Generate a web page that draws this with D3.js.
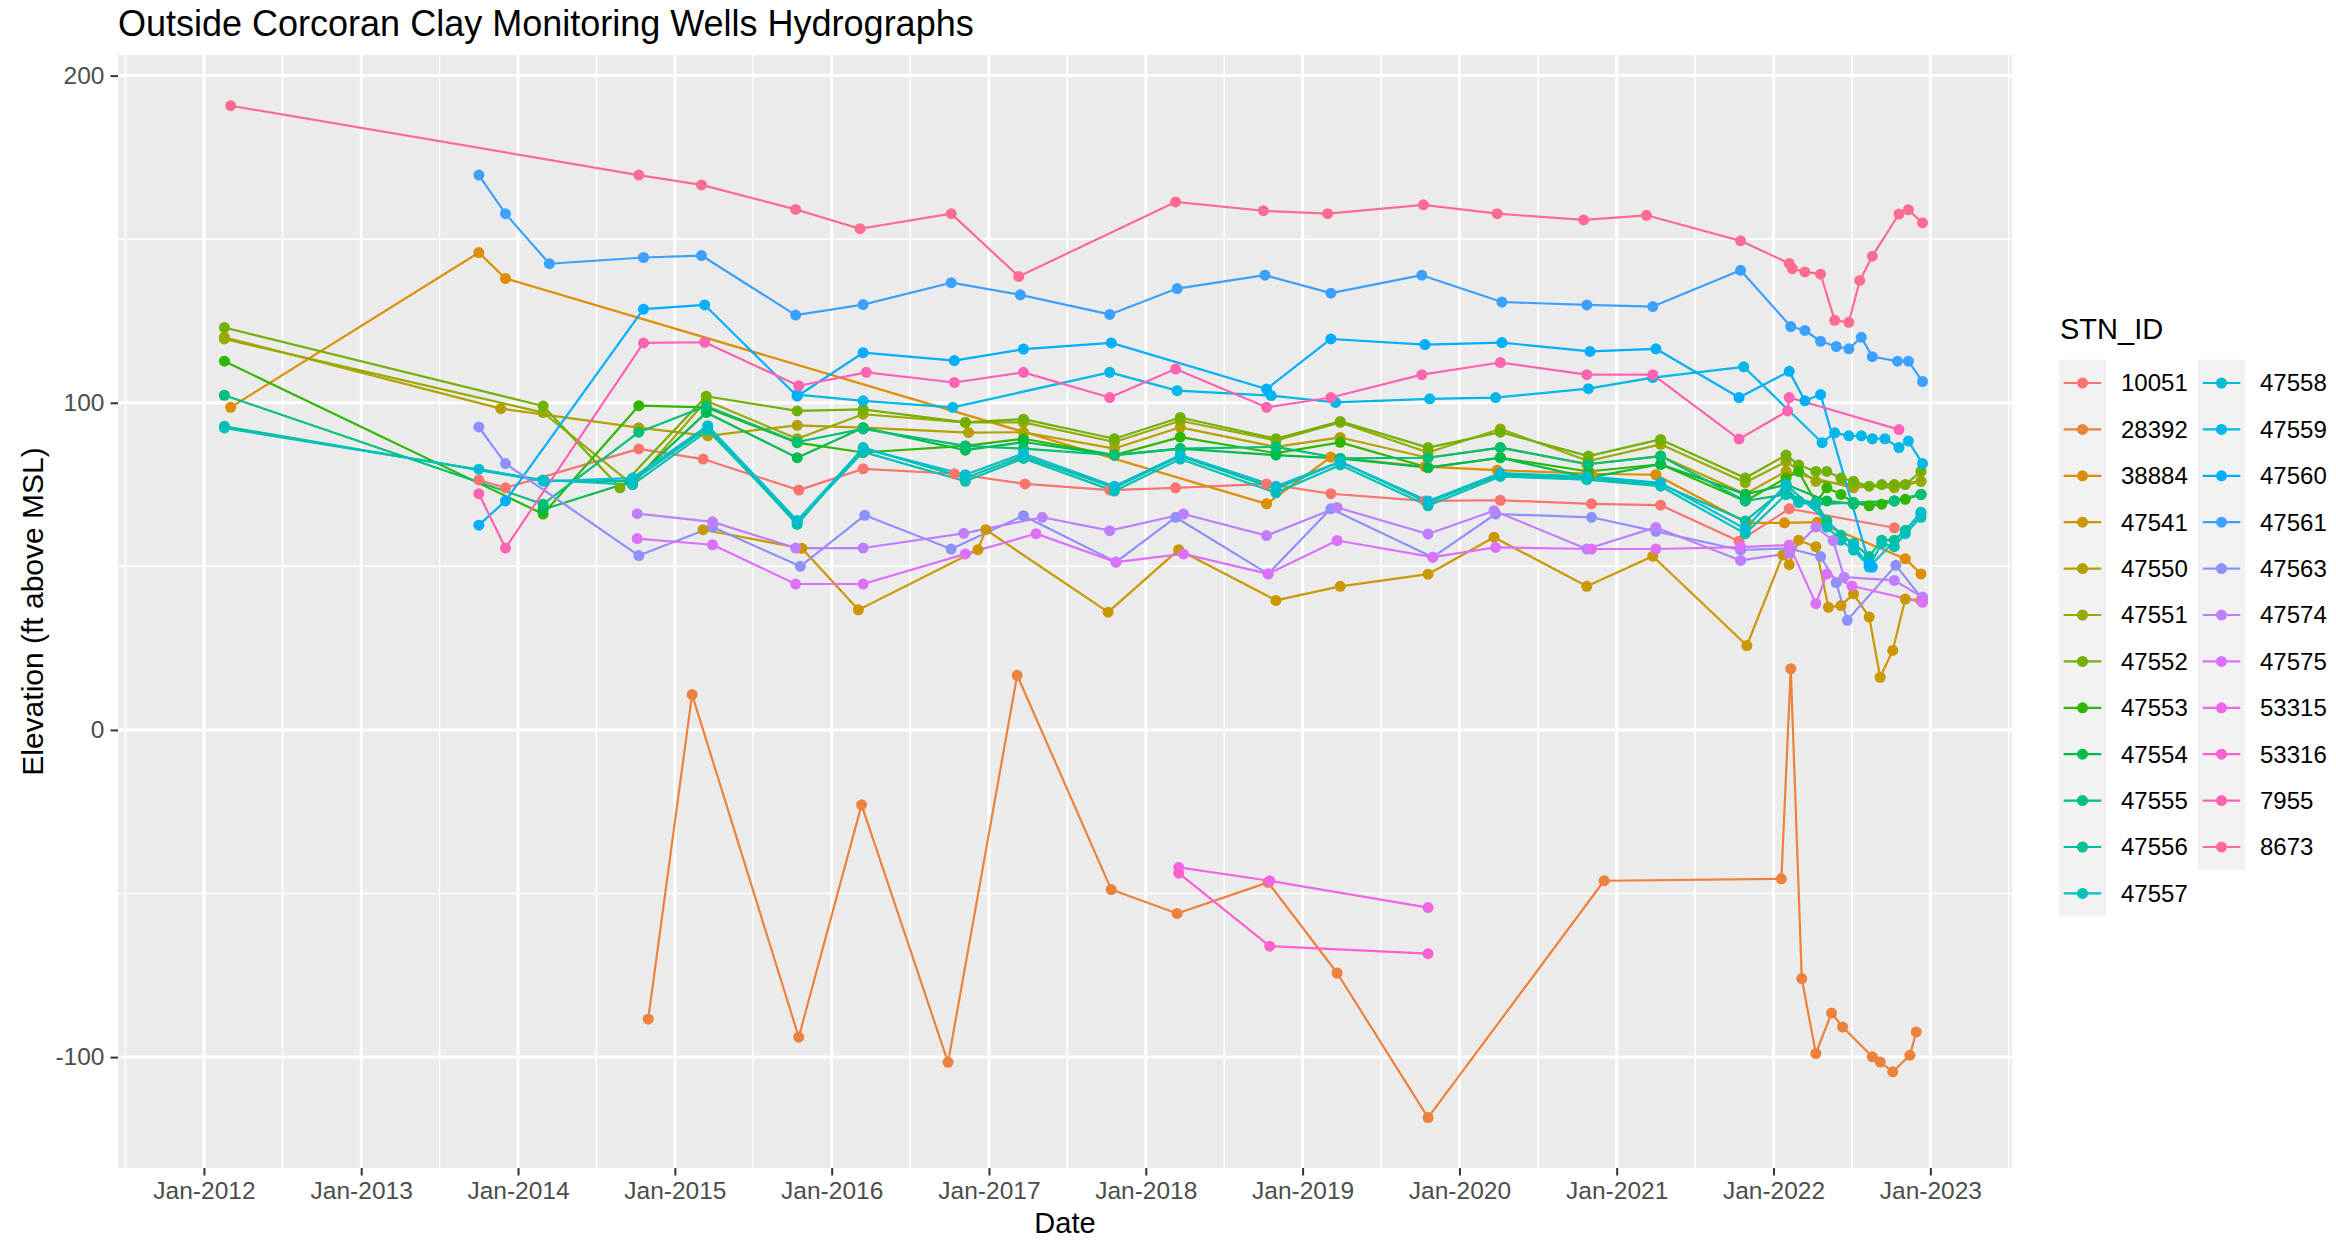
<!DOCTYPE html>
<html>
<head>
<meta charset="utf-8">
<script src="https://cdn.jsdelivr.net/npm/d3@7"></script>
<style>
  body { margin: 0; background: #fff; }
  text { font-family: "Liberation Sans", Arial, sans-serif; }
</style>
</head>
<body>
<div id="chart"></div>
<script>
// station ids, in legend order
const stations = ["10051","28392","38884","47541","47550","47551","47552","47553","47554","47555","47556","47557",
  "47558","47559","47560","47561","47563","47574","47575","53315","53316","7955","8673"];

// [decimal year, elevation ft above MSL]
const s10051 = [[2013.75,76.4],[2013.92,74],[2014.77,85.9],[2015.18,82.8],[2015.79,73.3],[2016.2,79.8],[2016.78,78.3],[2017.23,75.2],[2017.77,73.3],[2018.19,74],[2018.77,75.2],[2019.18,72.2],[2019.78,70],[2020.26,70.2],[2020.84,69.1],[2021.28,68.7],[2021.78,57.7],[2022.1,67.6],[2022.77,61.8]];
const s28392 = [[2014.83,-88.4],[2015.11,10.8],[2015.79,-93.9],[2016.19,-22.9],[2016.74,-101.6],[2017.18,16.7],[2017.78,-48.8],[2018.2,-56.1],[2018.78,-46.6],[2019.22,-74.3],[2019.8,-118.5],[2020.92,-46.1],[2022.05,-45.5],[2022.11,18.7],[2022.18,-76],[2022.27,-98.9],[2022.37,-86.5],[2022.44,-90.8],[2022.63,-99.9],[2022.68,-101.5],[2022.76,-104.5],[2022.87,-99.4],[2022.91,-92.3]];
const s38884 = [[2012.17,98.6],[2013.75,145.9],[2013.92,138],[2018.77,69.1],[2019.18,83.4],[2019.78,80.5],[2020.24,79.4],[2020.84,78.3],[2021.25,78],[2021.83,63.3],[2022.07,63.3],[2022.28,63.5],[2022.84,52.3],[2022.94,47.7]];
const s47541 = [[2015.18,61.2],[2015.81,55.5],[2016.17,36.7],[2016.93,55.1],[2016.98,61.2],[2017.76,36],[2018.21,55.1],[2018.83,39.6],[2019.24,43.9],[2019.8,47.6],[2020.22,58.9],[2020.81,43.9],[2021.23,53.1],[2021.83,25.8],[2022.06,53.5],[2022.1,50.5],[2022.16,58],[2022.27,56],[2022.35,37.5],[2022.43,38],[2022.51,41.6],[2022.61,34.5],[2022.68,16.1],[2022.76,24.3],[2022.84,40],[2022.94,39.6]];
const s47550 = [[2012.13,120],[2013.89,98.2],[2014.77,92.4],[2015.21,89.9],[2015.78,93.1],[2016.2,92.4],[2016.87,90.9],[2017.22,91],[2017.8,86],[2018.22,92.5],[2018.83,86.5],[2019.24,89.4],[2019.8,83.2],[2020.26,86.3],[2020.81,81.2],[2021.28,83.7],[2021.82,72.1],[2022.08,79],[2022.51,74],[2022.94,76]];
const s47551 = [[2012.13,119.5],[2014.16,97],[2014.73,75],[2015.2,100.6],[2015.78,89],[2016.2,96.5],[2016.85,94],[2017.22,94],[2017.8,88],[2018.22,94.5],[2018.83,88.5],[2019.24,94],[2019.8,84.8],[2020.26,92],[2020.82,82.2],[2021.28,87.3],[2021.82,75.6],[2022.08,82],[2022.27,76],[2022.51,75],[2022.77,74],[2022.94,76]];
const s47552 = [[2012.13,123],[2014.16,99],[2014.65,74],[2015.2,102],[2015.78,97.5],[2016.2,98],[2016.85,94],[2017.22,95],[2017.8,89],[2018.22,95.5],[2018.83,89],[2019.24,94.3],[2019.8,86.3],[2020.26,91],[2020.82,83.7],[2021.28,88.8],[2021.82,77],[2022.08,84],[2022.16,81],[2022.27,79],[2022.34,79],[2022.43,77],[2022.51,76],[2022.61,74.5],[2022.69,75],[2022.77,75],[2022.84,75],[2022.94,79]];
const s47553 = [[2012.13,112.7],[2014.16,66],[2014.77,99.1],[2015.2,98.6],[2015.78,87.8],[2016.2,84.8],[2016.85,86.8],[2017.22,89],[2017.8,84],[2018.22,89.5],[2018.83,84.6],[2019.24,87.9],[2019.8,80.2],[2020.26,83.2],[2020.82,79],[2021.28,81.2],[2021.82,70],[2022.08,77],[2022.16,79],[2022.27,69.5],[2022.34,74],[2022.43,72],[2022.51,69.5],[2022.61,68.5],[2022.69,69],[2022.77,70],[2022.84,70.5],[2022.94,72]];
const s47554 = [[2014.16,67.4],[2014.73,76],[2015.2,97],[2015.78,83.2],[2016.2,92.4],[2016.85,85.5],[2017.22,88],[2017.8,84],[2018.22,86],[2018.83,84],[2019.24,83],[2019.8,80.2],[2020.26,83.2],[2020.82,77.1],[2021.28,81.2],[2021.82,72],[2022.08,75],[2022.34,70],[2022.51,69],[2022.77,70],[2022.94,72]];
const s47555 = [[2012.13,102.3],[2014.16,69],[2014.77,91],[2015.2,99],[2015.78,88],[2016.2,92],[2016.85,86.8],[2017.22,86],[2017.8,84],[2018.22,86],[2018.83,86.5],[2019.24,83],[2019.8,83.2],[2020.26,86.3],[2020.82,81.2],[2021.28,83.7],[2021.82,70],[2022.08,72],[2022.27,69],[2022.51,69.5],[2022.77,70],[2022.94,72]];
const s47556 = [[2012.13,92.8],[2014.16,76.1],[2014.73,76.1],[2015.21,92.4],[2015.78,62.8],[2016.2,86.3],[2016.85,77],[2017.22,83.7],[2017.8,74],[2018.22,83.7],[2018.83,73.7],[2019.24,82],[2019.8,69.5],[2020.26,78.1],[2020.81,77],[2021.28,75.1],[2021.82,63.9],[2022.08,74],[2022.16,70],[2022.27,69.5],[2022.34,64],[2022.43,59.5],[2022.51,57],[2022.61,53],[2022.69,58],[2022.77,58],[2022.84,61],[2022.94,66.5]];
const s47557 = [[2012.13,92.3],[2014.16,76.4],[2014.73,75],[2015.21,91.5],[2015.78,63.5],[2016.2,85],[2016.85,76],[2017.22,83],[2017.8,73],[2018.22,82.8],[2018.83,72.5],[2019.24,81],[2019.8,68.5],[2020.26,77.5],[2020.81,76.5],[2021.28,74.5],[2021.82,60],[2022.08,72],[2022.16,69.5],[2022.27,69],[2022.34,62],[2022.43,58],[2022.51,55],[2022.61,50],[2022.69,57],[2022.77,56],[2022.84,60],[2022.94,65]];
const s47558 = [[2013.75,79.7],[2014.17,76],[2014.73,77],[2015.21,93],[2015.78,64],[2016.2,86],[2016.85,78],[2017.22,84.5],[2017.8,74.5],[2018.22,84],[2018.83,74.5],[2019.24,82],[2019.8,70],[2020.26,78.5],[2020.81,77.5],[2021.28,75.5],[2021.82,61.5],[2022.08,75],[2022.51,56.5],[2022.61,49.8],[2022.94,66]];
const s47559 = [[2015.78,102.5],[2016.2,100.6],[2016.77,98.6],[2017.77,109.3],[2018.2,103.7],[2018.8,102.2],[2019.21,100.1],[2019.81,101.2],[2020.23,101.6],[2020.82,104.3],[2021.23,107.7],[2021.81,111],[2022.31,87.8],[2022.39,90.8],[2022.48,89.9],[2022.56,89.9],[2022.63,89],[2022.71,89],[2022.8,86.3],[2022.86,88.3],[2022.95,81.4]];
const s47560 = [[2013.75,62.6],[2013.92,70],[2014.8,128.6],[2015.19,129.9],[2015.78,102],[2016.2,115.3],[2016.78,112.9],[2017.22,116.4],[2017.78,118.3],[2018.77,104.2],[2019.18,119.5],[2019.78,117.8],[2020.27,118.4],[2020.83,115.7],[2021.25,116.5],[2021.78,101.6],[2022.1,109.6],[2022.2,100.6],[2022.3,102.5],[2022.61,50.8],[2022.63,49.8]];
const s47561 = [[2013.75,169.6],[2013.92,157.8],[2014.2,142.5],[2014.8,144.4],[2015.17,145],[2015.77,126.8],[2016.2,130],[2016.76,136.7],[2017.2,133],[2017.77,127],[2018.2,134.9],[2018.76,139],[2019.18,133.5],[2019.76,139],[2020.27,130.8],[2020.81,129.9],[2021.23,129.4],[2021.79,140.5],[2022.11,123.3],[2022.2,122.1],[2022.3,118.8],[2022.4,117.2],[2022.48,116.5],[2022.56,120],[2022.63,114.1],[2022.79,112.7],[2022.86,112.7],[2022.95,106.5]];
const s47563 = [[2013.75,92.6],[2013.92,81.4],[2014.77,53.3],[2015.24,62],[2015.8,50],[2016.21,65.6],[2016.76,55.3],[2017.22,65.5],[2017.81,51.3],[2018.19,65],[2018.78,47.7],[2019.18,67.6],[2019.83,52.8],[2020.23,66],[2020.84,65],[2021.25,60.7],[2021.79,55],[2022.1,55.5],[2022.3,53],[2022.4,45],[2022.47,33.5],[2022.78,50.3],[2022.95,40]];
const s47574 = [[2014.76,66.1],[2015.24,63.6],[2015.77,55.6],[2016.2,55.6],[2016.84,60.1],[2017.34,65],[2017.77,60.9],[2018.24,66],[2018.77,59.4],[2019.22,68],[2019.8,59.9],[2020.22,67],[2020.81,55.3],[2021.25,61.9],[2021.79,51.8],[2022.1,54],[2022.27,62],[2022.38,57.9],[2022.45,46.7],[2022.77,45.7],[2022.95,40.6]];
const s47575 = [[2014.76,58.5],[2015.24,56.6],[2015.77,44.6],[2016.2,44.6],[2016.85,53.8],[2017.3,60],[2017.81,51.3],[2018.24,53.8],[2018.78,47.7],[2019.22,57.9],[2019.83,52.8],[2020.23,55.8],[2020.84,55.3],[2021.25,55.3],[2021.79,55.9],[2022.1,56.5],[2022.27,38.6],[2022.34,47.7],[2022.5,44],[2022.95,39]];
const s53315 = [[2018.21,-42],[2018.79,-46.1],[2019.8,-54.3]];
const s53316 = [[2018.21,-43.8],[2018.79,-66.1],[2019.8,-68.4]];
const s7955 = [[2013.75,72.2],[2013.92,55.6],[2014.8,118.3],[2015.19,118.5],[2015.79,105.2],[2016.22,109.3],[2016.78,106.2],[2017.22,109.3],[2017.77,101.6],[2018.19,110.3],[2018.77,98.6],[2019.18,101.6],[2019.76,108.6],[2020.26,112.3],[2020.81,108.6],[2021.23,108.6],[2021.78,88.9],[2022.09,97.5],[2022.1,101.6],[2022.8,91.8]];
const s8673 = [[2012.17,190.8],[2014.77,169.6],[2015.17,166.6],[2015.77,159.1],[2016.18,153.2],[2016.76,157.8],[2017.19,138.6],[2018.19,161.4],[2018.75,158.7],[2019.16,157.8],[2019.77,160.5],[2020.24,157.8],[2020.79,155.9],[2021.19,157.3],[2021.79,149.5],[2022.1,142.6],[2022.12,141],[2022.2,140],[2022.3,139.3],[2022.39,125.2],[2022.48,124.6],[2022.55,137.4],[2022.63,144.8],[2022.8,157.7],[2022.86,159],[2022.95,155]];

const seriesList = [s10051,s28392,s38884,s47541,s47550,s47551,s47552,s47553,s47554,s47555,s47556,s47557,
  s47558,s47559,s47560,s47561,s47563,s47574,s47575,s53315,s53316,s7955,s8673];

// axis ticks
const yTicks = [-100, 0, 100, 200];
const yMinor = [-50, 50, 150];
const xTickYears = [2012,2013,2014,2015,2016,2017,2018,2019,2020,2021,2022,2023];

// decimal year -> Date (UTC)
function yearToDate(t) {
  const y = Math.floor(t);
  const a = Date.UTC(y, 0, 1), b = Date.UTC(y + 1, 0, 1);
  return new Date(a + (t - y) * (b - a));
}

// ggplot2 hue_pal: polar LUV, l = 65, c = 100
function hueColor(h) {
  const L = 65, C = 100, r = h * Math.PI / 180;
  const U = C * Math.cos(r), V = C * Math.sin(r);
  const Xn = 95.047, Yn = 100, Zn = 108.883;
  const dn = Xn + 15 * Yn + 3 * Zn, un = 4 * Xn / dn, vn = 9 * Yn / dn;
  const Y = Yn * Math.pow((L + 16) / 116, 3);
  const u = U / (13 * L) + un, v = V / (13 * L) + vn;
  const X = 9 * Y * u / (4 * v), Z = -X / 3 - 5 * Y + 3 * Y / v;
  const x = X / 100, y = Y / 100, z = Z / 100;
  const lin = [3.240479*x - 1.537150*y - 0.498535*z,
              -0.969256*x + 1.875992*y + 0.041556*z,
               0.055648*x - 0.204043*y + 1.057311*z];
  const g = t => {
    const s = t > 0.0031308 ? 1.055 * Math.pow(t, 1 / 2.4) - 0.055 : 12.92 * t;
    return Math.round(255 * Math.max(0, Math.min(1, s)));
  };
  return d3.rgb(g(lin[0]), g(lin[1]), g(lin[2])).formatHex();
}

const n = stations.length;
const colors = stations.map((s, i) => hueColor((15 + i * 360 / n) % 360));
const color = d3.scaleOrdinal().domain(stations).range(colors);

const data = stations.map((id, i) => ({
  id: id,
  values: seriesList[i].map(d => ({ date: yearToDate(d[0]), value: d[1] }))
}));

// layout
const W = 2336, H = 1243;
const panel = { left: 118, right: 2012, top: 55, bottom: 1168 };

const svg = d3.select("#chart").append("svg")
  .attr("width", W).attr("height", H)
  .style("display", "block");

svg.append("rect").attr("width", W).attr("height", H).attr("fill", "#fff");

const x = d3.scaleUtc()
  .domain([new Date(Date.UTC(2011, 5, 15)), new Date(Date.UTC(2023, 6, 10))])
  .range([panel.left, panel.right]);

const y = d3.scaleLinear()
  .domain([-133.9, 206.3])
  .range([panel.bottom, panel.top]);

// panel background
svg.append("rect")
  .attr("x", panel.left).attr("y", panel.top)
  .attr("width", panel.right - panel.left)
  .attr("height", panel.bottom - panel.top)
  .attr("fill", "#EBEBEB");

const grid = svg.append("g");

// minor grid lines
const xMajorDates = d3.range(2011, 2025).map(yr => new Date(Date.UTC(yr, 0, 1)));
const xMinorDates = d3.pairs(xMajorDates).map(p => new Date((+p[0] + +p[1]) / 2))
  .filter(d => x(d) >= panel.left && x(d) <= panel.right);

grid.selectAll(".ymin").data(yMinor).join("line")
  .attr("class", "ymin")
  .attr("x1", panel.left).attr("x2", panel.right)
  .attr("y1", d => y(d)).attr("y2", d => y(d))
  .attr("stroke", "#fff").attr("stroke-width", 1.5);

grid.selectAll(".xmin").data(xMinorDates).join("line")
  .attr("class", "xmin")
  .attr("y1", panel.top).attr("y2", panel.bottom)
  .attr("x1", d => x(d)).attr("x2", d => x(d))
  .attr("stroke", "#fff").attr("stroke-width", 1.5);

// major grid lines
grid.selectAll(".ymaj").data(yTicks).join("line")
  .attr("class", "ymaj")
  .attr("x1", panel.left).attr("x2", panel.right)
  .attr("y1", d => y(d)).attr("y2", d => y(d))
  .attr("stroke", "#fff").attr("stroke-width", 3);

const xTickDates = xTickYears.map(yr => new Date(Date.UTC(yr, 0, 1)));
grid.selectAll(".xmaj").data(xTickDates).join("line")
  .attr("class", "xmaj")
  .attr("y1", panel.top).attr("y2", panel.bottom)
  .attr("x1", d => x(d)).attr("x2", d => x(d))
  .attr("stroke", "#fff").attr("stroke-width", 3);

// axes
const fmt = d3.utcFormat("%b-%Y");
const xAxis = d3.axisBottom(x)
  .tickValues(xTickDates)
  .tickFormat(fmt)
  .tickSize(7.5)
  .tickPadding(6);

const yAxis = d3.axisLeft(y)
  .tickValues(yTicks)
  .tickFormat(d => String(d))
  .tickSize(7.5)
  .tickPadding(6);

const gx = svg.append("g")
  .attr("transform", `translate(0,${panel.bottom})`)
  .call(xAxis);
gx.select(".domain").remove();
gx.selectAll(".tick line").attr("stroke", "#333").attr("stroke-width", 2);
gx.selectAll(".tick text")
  .attr("fill", "#4D4D4D")
  .style("font-size", "24.5px")
  .style("font-family", "'Liberation Sans', Arial, sans-serif");

const gy = svg.append("g")
  .attr("transform", `translate(${panel.left},0)`)
  .call(yAxis);
gy.select(".domain").remove();
gy.selectAll(".tick line").attr("stroke", "#333").attr("stroke-width", 2);
gy.selectAll(".tick text")
  .attr("fill", "#4D4D4D")
  .style("font-size", "24.5px")
  .style("font-family", "'Liberation Sans', Arial, sans-serif");

// lines then points
const line = d3.line()
  .x(d => x(d.date))
  .y(d => y(d.value));

const plot = svg.append("g");

plot.selectAll(".series").data(data).join("path")
  .attr("class", "series")
  .attr("d", d => line(d.values))
  .attr("fill", "none")
  .attr("stroke", d => color(d.id))
  .attr("stroke-width", 2.2)
  .attr("stroke-linejoin", "round");

data.forEach(s => {
  plot.append("g").selectAll("circle").data(s.values).join("circle")
    .attr("cx", d => x(d.date))
    .attr("cy", d => y(d.value))
    .attr("r", 5.5)
    .attr("fill", color(s.id));
});

// titles
svg.append("text")
  .attr("x", panel.left).attr("y", 36)
  .style("font-size", "36px")
  .attr("fill", "#000")
  .text("Outside Corcoran Clay Monitoring Wells Hydrographs");

svg.append("text")
  .attr("x", (panel.left + panel.right) / 2).attr("y", 1233)
  .attr("text-anchor", "middle")
  .style("font-size", "29px")
  .attr("fill", "#000")
  .text("Date");

svg.append("text")
  .attr("transform", `translate(43,${(panel.top + panel.bottom) / 2}) rotate(-90)`)
  .attr("text-anchor", "middle")
  .style("font-size", "30px")
  .attr("fill", "#000")
  .text("Elevation (ft above MSL)");

// legend
const legend = svg.append("g");
legend.append("text")
  .attr("x", 2060).attr("y", 339)
  .style("font-size", "29px")
  .attr("fill", "#000")
  .text("STN_ID");

const rowsPerCol = 12, rowH = 46.4, row0 = 383;
const colKey = [2059, 2198], colText = [2121, 2260], keyW = 47;

const items = legend.selectAll(".item").data(stations).join("g")
  .attr("class", "item")
  .attr("transform", (d, i) => {
    const c = Math.floor(i / rowsPerCol), r = i % rowsPerCol;
    return `translate(${colKey[c]},${row0 + r * rowH})`;
  });

items.append("rect")
  .attr("x", 0).attr("y", -rowH / 2)
  .attr("width", keyW).attr("height", rowH)
  .attr("fill", "#F2F2F2");

items.append("line")
  .attr("x1", keyW * 0.1).attr("x2", keyW * 0.9)
  .attr("y1", 0).attr("y2", 0)
  .attr("stroke", d => color(d))
  .attr("stroke-width", 2.2);

items.append("circle")
  .attr("cx", keyW / 2).attr("cy", 0).attr("r", 5.5)
  .attr("fill", d => color(d));

items.append("text")
  .attr("x", (d, i) => colText[Math.floor(i / rowsPerCol)] - colKey[Math.floor(i / rowsPerCol)])
  .attr("y", 0)
  .attr("dy", "0.35em")
  .style("font-size", "24px")
  .attr("fill", "#000")
  .text(d => d);
</script>
</body>
</html>
